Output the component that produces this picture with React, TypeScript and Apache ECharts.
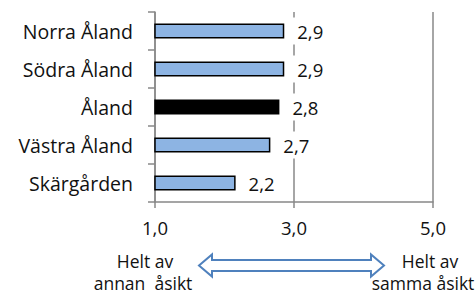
import React, { useEffect, useRef } from "react";
import * as echarts from "echarts";

const categories = ["Norra Åland", "Södra Åland", "Åland", "Västra Åland", "Skärgården"];
const values = [2.86, 2.86, 2.79, 2.66, 2.16];
const highlight = "Åland";
const xTicks = [1, 3, 5];
const leftNote = ["Helt av", "annan  åsikt"];
const rightNote = ["Helt av", "samma åsikt"];

const FONT = "'Open Sans', sans-serif";
const AXIS = "#888888";

export default function App() {
  const ref = useRef<HTMLDivElement>(null);
  useEffect(() => {
    if (!ref.current) return;
    const chart = echarts.init(ref.current, undefined, { renderer: "svg" });
    const fmt = (v: number) => v.toFixed(1).replace(".", ",");
    // double arrow geometry (decoration)
    const x0 = 199, x1 = 384, cy = 265.5, hh = 11, sh = 5.5, hl = 13;
    const note = (text: string, x: number, y: number) => ({
      type: "text",
      x,
      y,
      style: { text, fill: "#111", font: `17.5px ${FONT}`, align: "center", verticalAlign: "middle" },
    });
    chart.setOption({
      animation: false,
      grid: { left: 155, right: 43, top: 12, bottom: 93 },
      xAxis: {
        type: "value",
        min: xTicks[0],
        max: xTicks[xTicks.length - 1],
        interval: 2,
        axisLine: { show: true, lineStyle: { color: AXIS, width: 1.5 } },
        axisTick: { show: true, length: 6, lineStyle: { color: AXIS, width: 1.5 } },
        axisLabel: {
          margin: 16,
          color: "#111",
          fontFamily: FONT,
          fontSize: 18.5,
          formatter: (v: number) => fmt(v),
        },
        splitLine: { show: true, lineStyle: { color: AXIS, width: 1.5 } },
      },
      yAxis: {
        type: "category",
        data: categories,
        inverse: true,
        axisLine: { show: true, lineStyle: { color: AXIS, width: 1.5 } },
        axisTick: { show: true, length: 7, lineStyle: { color: AXIS, width: 1.5 } },
        axisLabel: { margin: 22, color: "#111", fontFamily: FONT, fontSize: 19.5 },
        splitLine: { show: false },
      },
      series: [
        {
          type: "bar",
          barWidth: 15,
          z: 3,
          data: values.map((v, i) => ({
            value: v,
            itemStyle: {
              color: categories[i] === highlight ? "#000000" : "#8db4e3",
              borderColor: "#000",
              borderWidth: 1.5,
            },
          })),
          label: {
            show: true,
            position: "right",
            distance: 5,
            color: "#111",
            fontFamily: FONT,
            fontSize: 18.5,
            backgroundColor: "#ffffff",
            padding: [4, 4, 4, 8],
            formatter: (p: any) => fmt(p.value),
          },
        },
      ],
      graphic: [
        {
          type: "polygon",
          shape: {
            points: [
              [x0, cy],
              [x0 + hl, cy - hh],
              [x0 + hl, cy - sh],
              [x1 - hl, cy - sh],
              [x1 - hl, cy - hh],
              [x1, cy],
              [x1 - hl, cy + hh],
              [x1 - hl, cy + sh],
              [x0 + hl, cy + sh],
              [x0 + hl, cy + hh],
            ],
          },
          style: { fill: "#ffffff", stroke: "#4f81bd", lineWidth: 2 },
        },
        note(leftNote[0], 145, 261),
        note(leftNote[1], 143, 283),
        note(rightNote[0], 430, 261),
        note(rightNote[1], 423, 283),
      ],
    });
    return () => chart.dispose();
  }, []);
  return <div ref={ref} style={{ width: 476, height: 295, position: "absolute", left: 0, top: 0 }} />;
}
